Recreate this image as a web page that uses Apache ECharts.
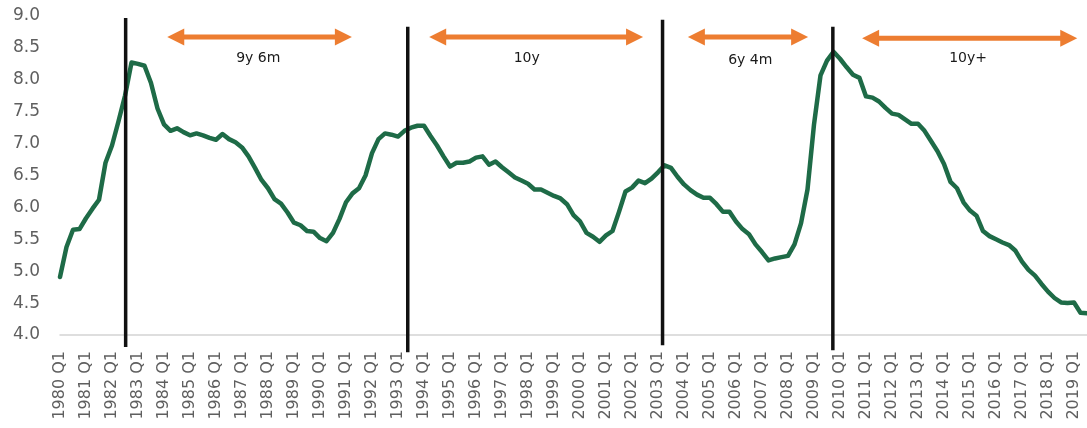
<!DOCTYPE html>
<html>
<head>
<meta charset="utf-8">
<script src="https://cdn.jsdelivr.net/npm/echarts@6/dist/echarts.min.js"></script>
<style>
  html, body { margin: 0; padding: 0; background: #ffffff; }
  #chart { width: 1087px; height: 428px; }
</style>
</head>
<body>
<div id="chart"></div>
<script>
// Quarterly series, 1980 Q1 – 2019 Q3
const firstYear = 1980;
const rate = [
  4.91, 5.38, 5.65, 5.66, 5.83, 5.98, 6.12, 6.70, 6.97, 7.35,
  7.75, 8.27, 8.25, 8.22, 7.95, 7.55, 7.30, 7.20, 7.24, 7.18,
  7.13, 7.16, 7.13, 7.09, 7.06, 7.15, 7.07, 7.02, 6.94, 6.80,
  6.62, 6.43, 6.30, 6.13, 6.06, 5.92, 5.76, 5.72, 5.63, 5.62,
  5.52, 5.47, 5.60, 5.82, 6.08, 6.22, 6.30, 6.50, 6.85, 7.07,
  7.16, 7.14, 7.11, 7.20, 7.25, 7.28, 7.28, 7.12, 6.97, 6.80,
  6.64, 6.70, 6.70, 6.72, 6.78, 6.80, 6.67, 6.72, 6.63, 6.55,
  6.47, 6.42, 6.37, 6.28, 6.28, 6.23, 6.18, 6.14, 6.05, 5.88,
  5.78, 5.60, 5.54, 5.46, 5.56, 5.63, 5.93, 6.25, 6.31, 6.42,
  6.38, 6.45, 6.55, 6.66, 6.62, 6.48, 6.36, 6.27, 6.20, 6.15,
  6.15, 6.05, 5.93, 5.93, 5.78, 5.66, 5.58, 5.42, 5.30, 5.17,
  5.20, 5.22, 5.24, 5.42, 5.75, 6.28, 7.30, 8.07, 8.30, 8.44,
  8.33, 8.20, 8.08, 8.03, 7.74, 7.72, 7.66, 7.56, 7.47, 7.45,
  7.38, 7.31, 7.31, 7.20, 7.04, 6.88, 6.68, 6.40, 6.30, 6.08,
  5.95, 5.87, 5.63, 5.55, 5.50, 5.45, 5.41, 5.32, 5.15, 5.02,
  4.93, 4.80, 4.68, 4.58, 4.51, 4.50, 4.51, 4.35, 4.34
];

// Category labels: "1980 Q1", "1980 Q2", ...
const quarters = rate.map((_, i) => (firstYear + Math.floor(i / 4)) + ' Q' + (i % 4 + 1));

// Cycle boundaries (position in quarters from 1980 Q1, vertical extent in axis units)
const cycleX      = [10.1, 53.5, 92.7, 118.9];
const cycleTop    = [8.97, 8.83, 8.94, 8.83];
const cycleBottom = [3.81, 3.73, 3.84, 3.76];

// Expansion spans drawn as double-headed arrows
const spanStart  = [16.5, 56.8, 96.6, 123.4];
const spanEnd    = [44.9, 89.7, 115.1, 156.5];
const spanLevel  = [8.67, 8.67, 8.67, 8.65];
const spanText   = ['9y 6m', '10y', '6y 4m', '10y+'];
const spanTextX  = [30.5, 71.8, 106.2, 139.7];
const spanTextY  = [8.34, 8.34, 8.31, 8.34];

const ORANGE = '#ED7D31';
const GREEN = '#1E6B47';
const AXIS_GREY = '#5f5f5f';
const FONT = '"DejaVu Sans", sans-serif';

const chart = echarts.init(document.getElementById('chart'), null, { renderer: 'canvas' });

chart.setOption({
  animation: false,
  backgroundColor: '#ffffff',
  grid: { left: 60, right: 0, top: 16, bottom: 93, containLabel: false },
  xAxis: {
    type: 'value',
    min: 0,
    max: rate.length - 1,
    interval: 4,
    axisLine: { show: true, lineStyle: { color: '#d4d4d4', width: 1.5 } },
    axisTick: { show: false },
    splitLine: { show: false },
    axisLabel: {
      rotate: 90,
      margin: 16,
      color: AXIS_GREY,
      fontFamily: FONT,
      fontSize: 16,
      showMaxLabel: false,
      formatter: v => (v % 4 === 0 && quarters[v]) ? quarters[v] : ''
    }
  },
  yAxis: {
    type: 'value',
    min: 4,
    max: 9,
    interval: 0.5,
    axisLine: { show: false },
    axisTick: { show: false },
    splitLine: { show: false },
    axisLabel: {
      margin: 20,
      color: AXIS_GREY,
      fontFamily: FONT,
      fontSize: 17,
      formatter: v => v.toFixed(1)
    }
  },
  series: [
    {
      type: 'line',
      data: rate.map((v, i) => [i, v]),
      showSymbol: false,
      smooth: false,
      lineStyle: { color: GREEN, width: 4.5, join: 'round', cap: 'round' },
      z: 2
    },
    {
      type: 'custom',
      clip: false,
      z: 3,
      data: cycleX.map((x, i) => [x, cycleTop[i], cycleBottom[i]]),
      encode: { x: 0, y: [1, 2] },
      renderItem: (params, api) => {
        const p1 = api.coord([api.value(0), api.value(1)]);
        const p2 = api.coord([api.value(0), api.value(2)]);
        return {
          type: 'line',
          shape: { x1: p1[0], y1: p1[1], x2: p2[0], y2: p2[1] },
          style: { stroke: '#111111', lineWidth: 3.5 }
        };
      }
    },
    {
      type: 'custom',
      clip: false,
      z: 4,
      data: spanStart.map((s, i) => [s, spanEnd[i], spanLevel[i], spanTextX[i], spanTextY[i]]),
      encode: { x: [0, 1], y: 2 },
      renderItem: (params, api) => {
        const a = api.coord([api.value(0), api.value(2)]);
        const b = api.coord([api.value(1), api.value(2)]);
        const t = api.coord([api.value(3), api.value(4)]);
        const y = a[1];
        const head = 17, half = 8.5;
        return {
          type: 'group',
          children: [
            {
              type: 'line',
              shape: { x1: a[0] + head - 3, y1: y, x2: b[0] - head + 3, y2: y },
              style: { stroke: ORANGE, lineWidth: 5 }
            },
            {
              type: 'polygon',
              shape: { points: [[a[0], y], [a[0] + head, y - half], [a[0] + head, y + half]] },
              style: { fill: ORANGE }
            },
            {
              type: 'polygon',
              shape: { points: [[b[0], y], [b[0] - head, y - half], [b[0] - head, y + half]] },
              style: { fill: ORANGE }
            },
            {
              type: 'text',
              x: t[0],
              y: t[1],
              style: {
                text: spanText[params.dataIndex],
                fill: '#1a1a1a',
                font: '500 14px ' + FONT,
                align: 'center',
                verticalAlign: 'middle'
              }
            }
          ]
        };
      }
    }
  ]
});
</script>
</body>
</html>
